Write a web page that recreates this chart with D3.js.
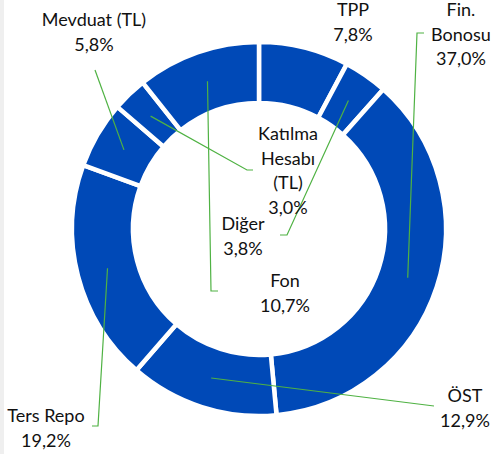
<!DOCTYPE html>
<html>
<head>
<meta charset="utf-8">
<script src="https://cdn.jsdelivr.net/npm/d3@7"></script>
<style>
  body { margin: 0; background: #fff; }
  svg text { font-family: Lato, "Open Sans", sans-serif; font-size: 18px; fill: #111; }
</style>
</head>
<body>
<svg id="chart" width="492" height="454"></svg>
<script>
const categories = ["TPP", "Diğer", "Fin. Bonosu", "ÖST", "Ters Repo", "Mevduat (TL)", "Katılma Hesabı (TL)", "Fon"]
const values = [7.8, 3.8, 37.0, 12.9, 19.2, 5.8, 3.0, 10.7]
const valueLabels = ["7,8%", "3,8%", "37,0%", "12,9%", "19,2%", "5,8%", "3,0%", "10,7%"]

// label layout: text lines, centre x, first baseline, leader anchor + tick end
const labelLayout = [
  { lines: ["TPP"], x: 353, y: 16, leader: null },
  { lines: ["Diğer"], x: 243, y: 230, leader: [[287, 235], [280, 235]] },
  { lines: ["Fin.", "Bonosu"], x: 461, y: 16, leader: [[417, 33], [424, 33]] },
  { lines: ["ÖST"], x: 465, y: 402, leader: [[434, 406]] },
  { lines: ["Ters Repo"], x: 46, y: 422, leader: [[98, 426], [92, 426]] },
  { lines: ["Mevduat (TL)"], x: 94, y: 26, leader: [[95, 70]] },
  { lines: ["Katılma", "Hesabı", "(TL)"], x: 288, y: 140, leader: [[247, 170], [253, 170]] },
  { lines: ["Fon"], x: 285, y: 287, leader: [[211, 291], [218, 291]] },
]

const svg = d3.select("#chart")
const cx = 259
const cy = 229
const outerR = 187
const innerR = 126
const lineH = 24.5

svg.append("rect").attr("x", 0).attr("y", 0).attr("width", 4).attr("height", 454).attr("fill", "#efefef")

const pie = d3.pie().sort(null).value((d) => d)
const arcs = pie(values)
const arc = d3.arc().innerRadius(innerR).outerRadius(outerR)

const g = svg.append("g").attr("transform", `translate(${cx},${cy})`)

g.selectAll("path")
  .data(arcs)
  .enter()
  .append("path")
  .attr("d", arc)
  .attr("fill", "#0049B7")
  .attr("stroke", "#fff")
  .attr("stroke-width", 4.5)
  .attr("stroke-linejoin", "miter")

// leader lines from slice centroid to label
arcs.forEach((a, i) => {
  const lay = labelLayout[i]
  if (!lay.leader) return
  const c = arc.centroid(a)
  const pts = [[c[0] + cx, c[1] + cy], ...lay.leader]
  svg.append("path")
    .attr("d", d3.line()(pts))
    .attr("fill", "none")
    .attr("stroke", "#4fb243")
    .attr("stroke-width", 1.2)
})

// labels
labelLayout.forEach((lay, i) => {
  const lines = [...lay.lines, valueLabels[i]]
  const t = svg.append("text").attr("text-anchor", "middle")
  lines.forEach((s, j) => {
    t.append("tspan").attr("x", lay.x).attr("y", lay.y + j * lineH).text(s)
  })
})
</script>
</body>
</html>
